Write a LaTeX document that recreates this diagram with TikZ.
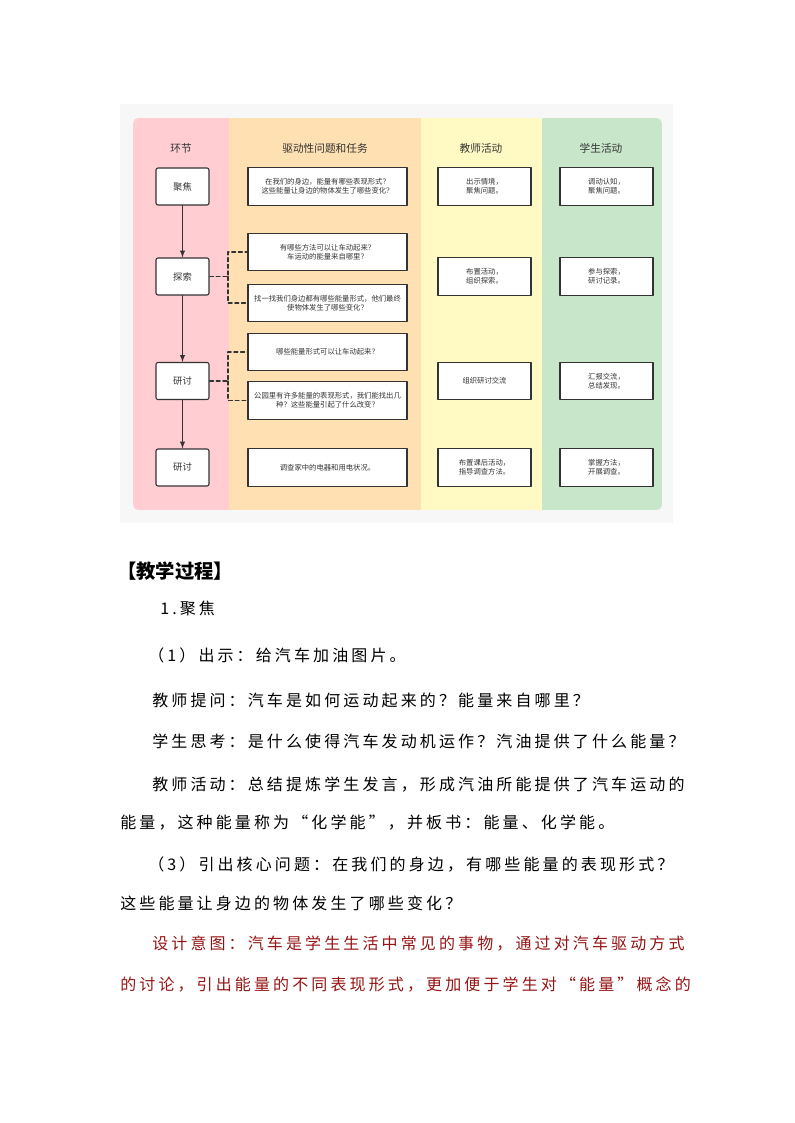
\documentclass[tikz,border=0pt]{standalone}
\usepackage{fontspec}
\setmainfont{Noto Sans CJK SC}
\usetikzlibrary{positioning}
\definecolor{lanepink}{HTML}{FFCDD2}
\definecolor{laneorange}{HTML}{FFE0B2}
\definecolor{laneyellow}{HTML}{FFF9C4}
\definecolor{lanegreen}{HTML}{C8E6C9}
\definecolor{pagegrey}{HTML}{F7F7F7}
\definecolor{inkgrey}{HTML}{333333}
\definecolor{noteRed}{RGB}{150,20,20}
\begin{document}
\begin{tikzpicture}[x=0.75pt,y=-0.75pt,line cap=round,line join=round,>=latex,
  head/.style={text=inkgrey,font=\fontsize{8}{9}\selectfont},
  stage/.style={draw=inkgrey,line width=0.8pt,rounded corners=1.5pt,fill=white,text=inkgrey,
    minimum width=39.75pt,minimum height=27.75pt,inner sep=1pt,font=\fontsize{7}{8}\selectfont},
  task/.style={draw=inkgrey,line width=0.8pt,fill=white,text=inkgrey,align=center,
    minimum width=119.25pt,minimum height=28pt,inner sep=1pt,font=\fontsize{5.5}{6.8}\selectfont},
  act/.style={task,minimum width=69.75pt},
  link/.style={draw=inkgrey,line width=0.8pt,dash pattern=on 3pt off 2pt},
  flow/.style={draw=inkgrey,line width=0.8pt,->},
  para/.style={anchor=west,inner sep=0pt,font=\fontsize{12}{14}\selectfont\addfontfeature{LetterSpace=19.5}}]
  \useasboundingbox[fill=white] (0,0) rectangle (794,1123);
  \fill[pagegrey] (120,104) rectangle (673,523);
  \begin{scope}
    \clip[rounded corners=4pt] (133,118) rectangle (662,510);
    \fill[lanepink] (133,118) rectangle (229,510);
    \fill[laneorange] (229,118) rectangle (421,510);
    \fill[laneyellow] (421,118) rectangle (542,510);
    \fill[lanegreen] (542,118) rectangle (662,510);
  \end{scope}
  \node[head] (h1) at (181,148) {环节};
  \node[head] (h2) at (325,148) {驱动性问题和任务};
  \node[head] (h3) at (481,148) {教师活动};
  \node[head] (h4) at (601,148) {学生活动};
  \node[stage] (jujiao) at (182.5,186.5) {聚焦};
  \node[stage] (tansuo) at (182.5,276.5) {探索};
  \node[stage] (yantao) at (182.5,381) {研讨};
  \node[stage] (yantaob) at (182.5,467.5) {研讨};
  \node[task] (q1) at (327.5,186.5) {在我们的身边，能量有哪些表现形式？\\这些能量让身边的物体发生了哪些变化？};
  \node[task] (q2) at (327.5,252) {有哪些方法可以让车动起来？\\车运动的能量来自哪里？};
  \node[task] (q3) at (327.5,303) {找一找我们身边都有哪些能量形式，他们最终\\使物体发生了哪些变化？};
  \node[task] (q4) at (327.5,352) {哪些能量形式可以让车动起来？};
  \node[task] (q5) at (327.5,400.5) {公园里有许多能量的表现形式，我们能找出几\\种？这些能量引起了什么改变？};
  \node[task] (q6) at (327.5,467.5) {调查家中的电器和用电状况。};
  \node[act] (t1) at (484.5,186.5) {出示情境，\\聚焦问题。};
  \node[act] (t2) at (484.5,276.5) {布置活动，\\组织探索。};
  \node[act] (t3) at (484.5,381) {组织研讨交流};
  \node[act] (t4) at (484.5,467.5) {布置课后活动，\\指导调查方法。};
  \node[act] (s1) at (606.5,186.5) {调动认知，\\聚焦问题。};
  \node[act] (s2) at (606.5,276.5) {参与探索，\\研讨记录。};
  \node[act] (s3) at (606.5,381) {汇报交流，\\总结发现。};
  \node[act] (s4) at (606.5,467.5) {掌握方法，\\开展调查。};
  \draw[flow] (jujiao) -- (tansuo);
  \draw[flow] (tansuo) -- (yantao);
  \draw[flow] (yantao) -- (yantaob);
  \coordinate (tsj) at (228,276.5);
  \coordinate (ytj) at (228,381);
  \draw[link] (tansuo.east) -- (tsj) |- (q2.west);
  \draw[link] (tsj) |- (q3.west);
  \draw[link] (yantao.east) -- (ytj) |- (q4.west);
  \draw[link] (ytj) |- (q5.west);
  \node[anchor=west,inner sep=0pt,font=\bfseries\fontsize{14.5}{16}\selectfont] (title) at (117,571) {【教学过程】};
  \node[para] (p1) at (160,608) {1.聚焦};
  \node[para] (p2) at (148,655) {（1）出示：给汽车加油图片。};
  \node[para] (p3) at (152,700) {教师提问：汽车是如何运动起来的？能量来自哪里？};
  \node[para] (p4) at (152,741) {学生思考：是什么使得汽车发动机运作？汽油提供了什么能量？};
  \node[para] (p5) at (152,785) {教师活动：总结提炼学生发言，形成汽油所能提供了汽车运动的};
  \node[para] (p6) at (120,823) {能量，这种能量称为“化学能”，并板书：能量、化学能。};
  \node[para] (p7) at (148,864) {（3）引出核心问题：在我们的身边，有哪些能量的表现形式？};
  \node[para] (p8) at (120,903) {这些能量让身边的物体发生了哪些变化？};
  \node[para,text=noteRed] (p9) at (152,944) {设计意图：汽车是学生生活中常见的事物，通过对汽车驱动方式};
  \node[para,text=noteRed] (p10) at (120,984) {的讨论，引出能量的不同表现形式，更加便于学生对“能量”概念的};
\end{tikzpicture}
\end{document}
